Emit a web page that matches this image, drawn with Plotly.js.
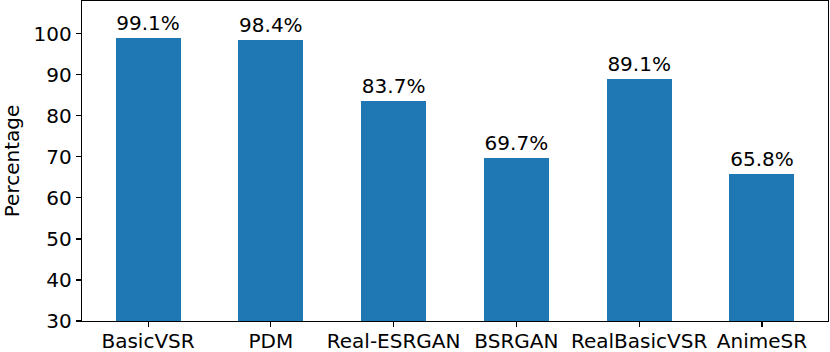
<!DOCTYPE html>
<html>
<head>
<meta charset="utf-8">
<script src="https://cdn.plot.ly/plotly-3.0.1.min.js"></script>
<style>
  body { margin:0; padding:0; background:#ffffff; }
  #myDiv { width:830px; height:352px; }
</style>
</head>
<body>
<div id="myDiv"></div>
<script>
// percentage per method
let methods=['BasicVSR','PDM','Real-ESRGAN','BSRGAN','RealBasicVSR','AnimeSR'];
let percents=[99.1, 98.4, 83.7, 69.7, 89.1, 65.8];
let ytick_vals=[30,40,50,60,70,80,90,100];

function plotly_plot_percent() {

  let font_family='"DejaVu Sans", Verdana, sans-serif';
  let xpos=methods.map(function(m,i) { return i; });
  let labels=percents.map(function(v) { return v.toFixed(1)+'%'; });

  let trace = { x: xpos,
                y: percents,
                type: 'bar',
                width: 0.53,
                marker: { color: '#1f77b4', line: { width: 0 } },
                text: labels,
                textposition: 'outside',
                cliponaxis: false,
                textfont: { family: font_family, size: 20, color: '#000000' },
                hoverinfo: 'none',
                showlegend: false };

  let data = [ trace ];

  let layout = {
    paper_bgcolor: '#ffffff',
    plot_bgcolor: '#ffffff',
    width: 830,
    height: 352,
    margin: { l:82, r:2, t:1, b:31 },
    font: { family: font_family, size: 20, color: '#000000' },
    bargap: 0,
    xaxis: {
      range: [-0.538, 5.538],
      tickmode: 'array',
      tickvals: xpos,
      ticktext: methods,
      showgrid: false,
      zeroline: false,
      showline: true,
      mirror: true,
      linecolor: '#000000',
      linewidth: 1.3,
      ticks: 'outside',
      ticklen: 5,
      tickwidth: 1.1,
      tickcolor: '#000000',
      ticklabelstandoff: -3,
      tickfont: { family: font_family, size: 20, color: '#000000' } },
    yaxis: {
      range: [30, 108],
      tickmode: 'array',
      tickvals: ytick_vals,
      title: { text: 'Percentage', font: { family: font_family, size: 20, color: '#000000' }, standoff: 8 },
      showgrid: false,
      zeroline: false,
      showline: true,
      mirror: true,
      linecolor: '#000000',
      linewidth: 1.3,
      ticks: 'outside',
      ticklen: 5,
      tickwidth: 1.1,
      tickcolor: '#000000',
      tickfont: { family: font_family, size: 20, color: '#000000' } }
  };

  let config = { displayModeBar: false, staticPlot: true };

  Plotly.newPlot('myDiv', data, layout, config);
}

plotly_plot_percent();
</script>
</body>
</html>
